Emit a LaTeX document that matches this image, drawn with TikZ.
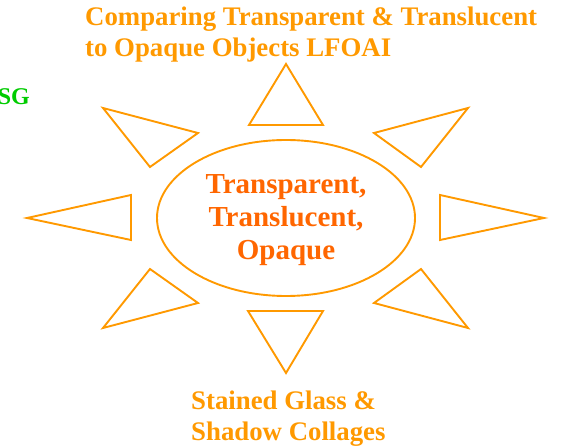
\documentclass[tikz,border=0pt]{standalone}
\usepackage{fontspec}
\setmainfont{Liberation Serif}
\usetikzlibrary{shapes.geometric}
\definecolor{sunorange}{HTML}{FF9900}
\definecolor{coreorange}{HTML}{FF6600}
\definecolor{tagreen}{HTML}{00CC00}

\begin{document}
\begin{tikzpicture}[x=1pt, y=-1pt,
  ray/.style={draw=sunorange, line width=1.9pt, line join=miter},
  headtext/.style={text=sunorange, align=left, inner sep=0pt,
    font=\fontsize{26.8}{31}\selectfont\bfseries},
  coretext/.style={text=coreorange, align=center, inner sep=0pt,
    font=\fontsize{29}{33}\selectfont\bfseries}]
  \useasboundingbox (0,0) rectangle (565,446);
  % the sun: ellipse in the middle, eight triangles round it
  \node[ellipse, draw=sunorange, line width=1.9pt, minimum width=258pt,
    minimum height=156pt, inner sep=0pt] (core) at (286,218) {};
  \foreach \a/\b/\c in {
      {(286,64)}/{(249,125)}/{(323,125)},
      {(103,108)}/{(150,167)}/{(198,133)},
      {(468,108)}/{(421,167)}/{(374,133)},
      {(27,218)}/{(131,195)}/{(131,240)},
      {(544,218)}/{(440,195)}/{(440,240)},
      {(103,328)}/{(150,269)}/{(198,303)},
      {(468,328)}/{(421,269)}/{(374,303)},
      {(286,373)}/{(248,311)}/{(323,311)}}
    \draw[ray] \a -- \b -- \c -- cycle;
  \node[coretext] (coretitle) at (286,220) {Transparent,\\Translucent,\\Opaque};
  % texts round the edge (base = last line)
  \node[headtext, anchor=base west] (topic) at (85,57)
    {Comparing Transparent \& Translucent\\to Opaque Objects LFOAI};
  \node[headtext, anchor=base west] (craft) at (191,440)
    {Stained Glass \&\\Shadow Collages};
  \node[text=tagreen, inner sep=0pt, anchor=base east,
    font=\fontsize{24}{28}\selectfont\bfseries] (tag) at (30,105) {SG};
\end{tikzpicture}
\end{document}
